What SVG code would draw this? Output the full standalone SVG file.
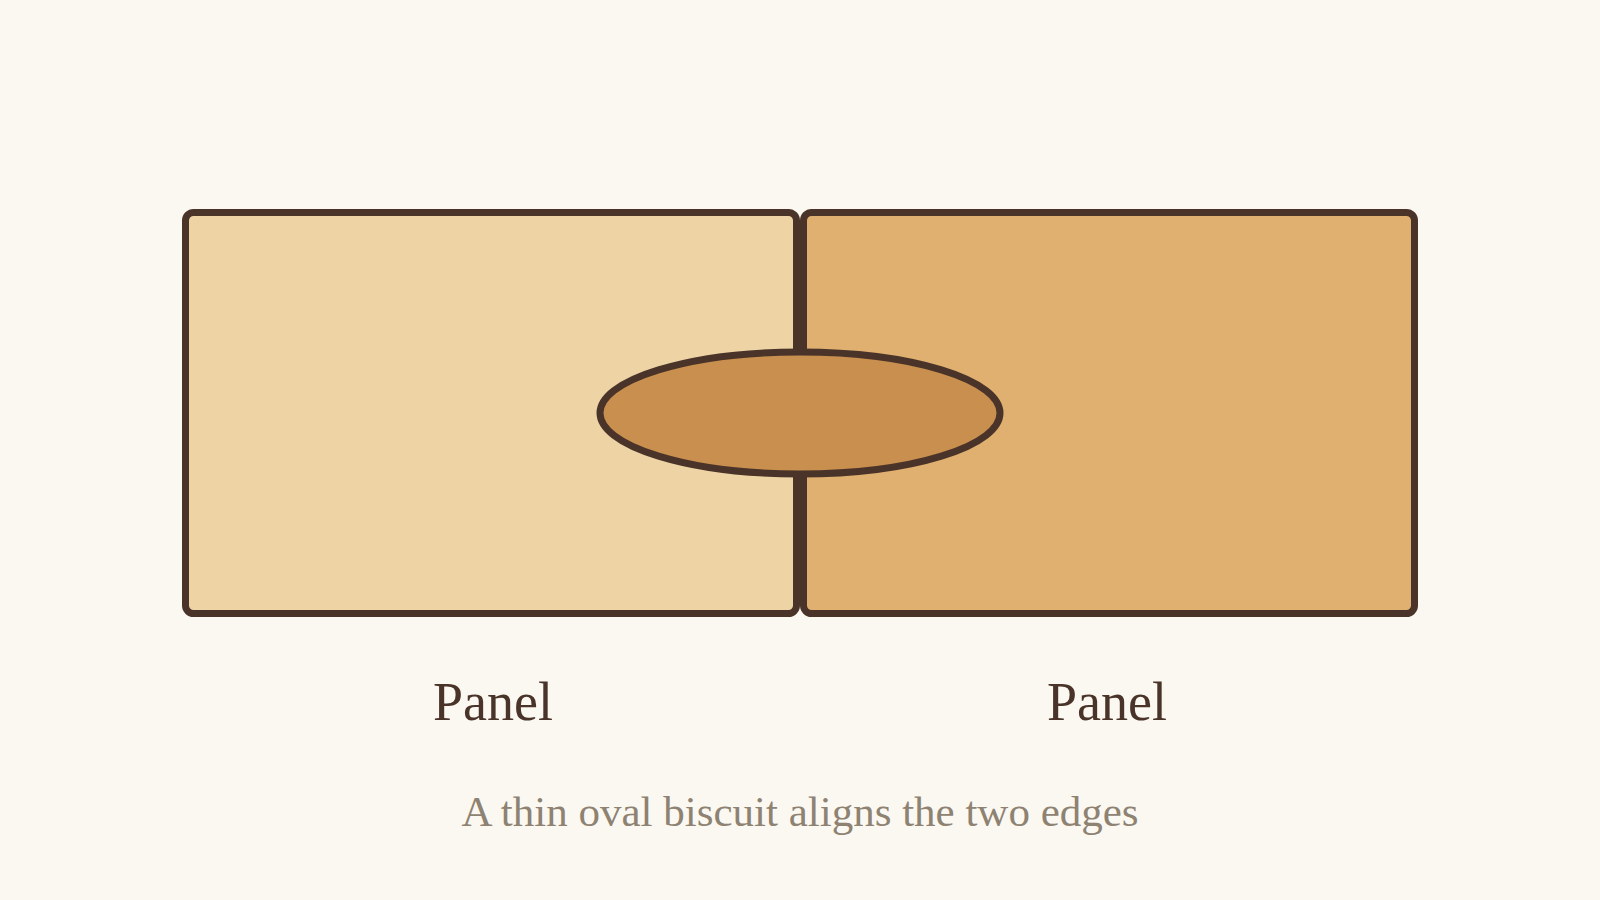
<svg xmlns="http://www.w3.org/2000/svg" width="1600" height="900" viewBox="0 0 1600 900">
  <style>
    .panel { stroke: #4A3429; stroke-width: 7; }
    .label { font-family: "Liberation Serif", "Times New Roman", serif; font-size: 54px; fill: #4A3429; text-anchor: middle; }
    .caption { font-family: "Liberation Serif", "Times New Roman", serif; font-size: 43px; fill: #8E8272; text-anchor: middle; }
  </style>
  <rect x="0" y="0" width="1600" height="900" fill="#FBF8F1"/>
  <g id="panel-left">
    <rect class="panel" x="185.5" y="212.5" width="611" height="401" rx="8" fill="#EED4A5"/>
    <text class="label" x="493" y="720">Panel</text>
  </g>
  <g id="panel-right">
    <rect class="panel" x="803.5" y="212.5" width="611" height="401" rx="8" fill="#E0B070"/>
    <text class="label" x="1107" y="720">Panel</text>
  </g>
  <g id="biscuit">
    <ellipse class="panel" cx="800" cy="413" rx="200" ry="61" fill="#C88F4E"/>
  </g>
  <g id="connectors"></g>
  <g id="caption">
    <text class="caption" x="800" y="826">A thin oval biscuit aligns the two edges</text>
  </g>
</svg>
